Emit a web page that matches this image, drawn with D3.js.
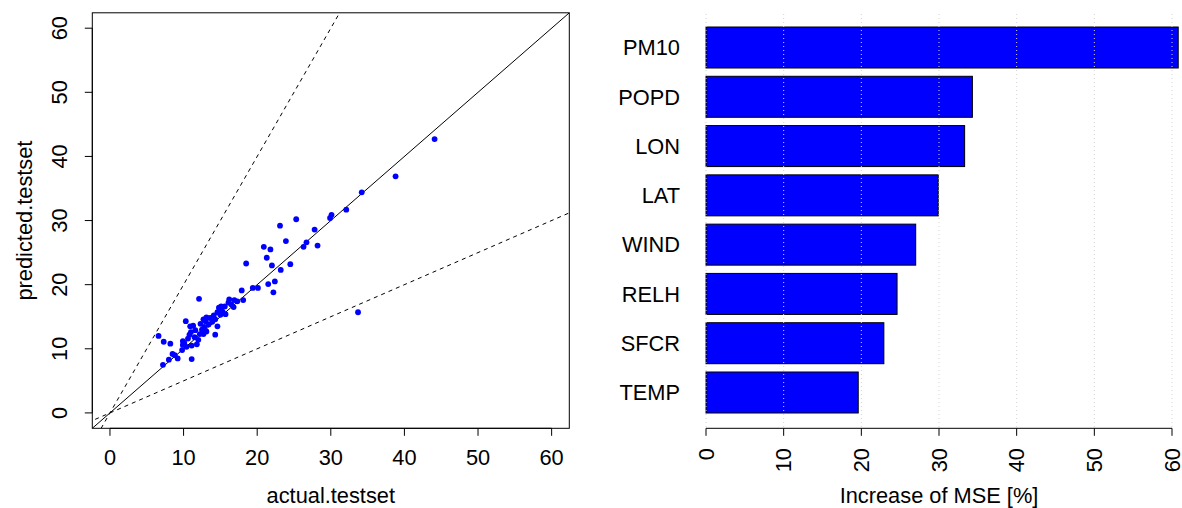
<!DOCTYPE html>
<html><head><meta charset="utf-8">
<script src="https://cdn.jsdelivr.net/npm/d3@7"></script>
<style>
html,body{margin:0;padding:0;background:#fff;}
text{font-family:"Liberation Sans",Arial,Helvetica,sans-serif;fill:#000;}
</style></head>
<body>
<svg id="chart" width="1182" height="508"></svg>
<script>
// ---- data ----
const actual = [44.1,38.8,34.2,32.1,30.1,29.9,25.3,23.1,27.8,23.9,26.7,26.3,28.2,20.9,21.8,21.3,22.0,24.5,18.5,23.2,22.4,21.5,22.2,19.4,20.1,17.9,33.7,12.1,
  18.1,16.9,16.2,16.1,15.6,14.8,15.1,15.7,14.6,14.1,13.6,13.1,12.7,14.6,10.3,11.3,10.9,12.3,12.8,12.5,13.1,12.7,12.2,14.3,11.0,10.8,10.6,6.6,7.3,8.2,9.9,10.1,9.9,11.1,11.8,9.8,8.5,8.8,8.0,9.2,11.1,7.2,
  13.9,14.3,15.3,16.5,17.3,13.4,11.6,11.5,12.0,10.4,13.0,16.8,15.0];
const predicted = [42.7,36.9,34.4,31.7,30.9,30.4,30.2,29.2,28.6,26.8,26.6,25.9,26.1,25.9,25.5,24.2,23.0,23.2,23.3,22.3,20.5,20.1,18.8,19.5,19.5,19.1,15.7,17.8,
  17.6,17.6,17.7,17.2,16.6,16.4,16.6,15.4,15.7,15.2,14.8,14.9,14.6,13.5,14.3,13.6,13.5,13.9,13.4,13.0,12.7,12.3,12.3,12.2,12.6,12.2,11.6,12.0,11.1,10.8,11.2,10.9,10.6,10.5,10.7,9.8,9.2,9.0,8.3,8.5,8.4,7.5,
  14.2,14.6,15.8,16.9,17.4,13.8,12.9,11.8,11.4,10.3,14.3,16.5,15.3];
const refSlopes = [1, 2, 0.5];
const scatterTicks = [0,10,20,30,40,50,60];

const variables = ["PM10","POPD","LON","LAT","WIND","RELH","SFCR","TEMP"];
const mseIncrease = [60.8,34.3,33.3,29.9,27.0,24.6,22.9,19.6];
const barTicks = [0,10,20,30,40,50,60];

const FONT = 21.8;
const svg = d3.select("#chart");

// ---- left: scatter ----
const L = {left:92.3, right:569.3, top:12.8, bottom:428.3};
const x = d3.scaleLinear().domain([-2.4,62.4]).range([L.left,L.right]);
const y = d3.scaleLinear().domain([-2.4,62.4]).range([L.bottom,L.top]);

svg.append("clipPath").attr("id","clipL").append("rect")
  .attr("x",L.left).attr("y",L.top).attr("width",L.right-L.left).attr("height",L.bottom-L.top);

const lines = svg.append("g").attr("clip-path","url(#clipL)");
refSlopes.forEach((s,i)=>{
  lines.append("line")
    .attr("x1",x(-5)).attr("y1",y(-5*s)).attr("x2",x(70)).attr("y2",y(70*s))
    .attr("stroke","#000").attr("stroke-width",1)
    .attr("stroke-dasharray", i===0 ? null : "4,4");
});

svg.append("g").selectAll("circle").data(actual.map((a,i)=>[a,predicted[i]])).join("circle")
  .attr("cx",d=>x(d[0])).attr("cy",d=>y(d[1])).attr("r",2.9).attr("fill","#0000FF");

svg.append("rect").attr("x",L.left).attr("y",L.top).attr("width",L.right-L.left).attr("height",L.bottom-L.top)
  .attr("fill","none").attr("stroke","#000").attr("stroke-width",1);

// x axis
const gx = svg.append("g");
gx.append("line").attr("x1",x(0)).attr("x2",x(60)).attr("y1",L.bottom).attr("y2",L.bottom).attr("stroke","#000");
gx.selectAll("line.t").data(scatterTicks).join("line").attr("class","t")
  .attr("x1",d=>x(d)).attr("x2",d=>x(d)).attr("y1",L.bottom).attr("y2",L.bottom+7.5).attr("stroke","#000");
gx.selectAll("text").data(scatterTicks).join("text")
  .attr("x",d=>x(d)).attr("y",465).attr("text-anchor","middle").attr("font-size",FONT).text(d=>d);
svg.append("text").attr("x",(L.left+L.right)/2).attr("y",503).attr("text-anchor","middle")
  .attr("font-size",FONT).text("actual.testset");

// y axis
const gy = svg.append("g");
gy.append("line").attr("x1",L.left).attr("x2",L.left).attr("y1",y(0)).attr("y2",y(60)).attr("stroke","#000");
gy.selectAll("line.t").data(scatterTicks).join("line").attr("class","t")
  .attr("x1",L.left).attr("x2",L.left-7.5).attr("y1",d=>y(d)).attr("y2",d=>y(d)).attr("stroke","#000");
gy.selectAll("text").data(scatterTicks).join("text")
  .attr("transform",d=>`translate(67,${y(d)}) rotate(-90)`).attr("text-anchor","middle")
  .attr("font-size",FONT).text(d=>d);
svg.append("text").attr("transform",`translate(32,${(L.top+L.bottom)/2}) rotate(-90)`)
  .attr("text-anchor","middle").attr("font-size",FONT).text("predicted.testset");

// ---- right: bars ----
const xb = d3.scaleLinear().domain([0,60]).range([706,1172]);
const yb = d3.scaleBand().domain(variables).range([27,413]).paddingInner(0.168).paddingOuter(0);

svg.append("g").selectAll("rect").data(variables).join("rect")
  .attr("x",xb(0)).attr("y",d=>yb(d))
  .attr("width",(d,i)=>xb(mseIncrease[i])-xb(0)).attr("height",yb.bandwidth())
  .attr("fill","#0000FF").attr("stroke","#000").attr("stroke-width",1);

svg.append("g").selectAll("line").data(barTicks).join("line")
  .attr("x1",d=>xb(d)).attr("x2",d=>xb(d)).attr("y1",14).attr("y2",428)
  .attr("stroke","#D3D3D3").attr("stroke-width",1).attr("stroke-dasharray","1,3");

svg.append("g").selectAll("text").data(variables).join("text")
  .attr("x",680).attr("y",d=>yb(d)+yb.bandwidth()/2).attr("dy","0.36em")
  .attr("text-anchor","end").attr("font-size",FONT).text(d=>d);

const gb = svg.append("g");
gb.append("line").attr("x1",xb(0)).attr("x2",xb(60)).attr("y1",428.3).attr("y2",428.3).attr("stroke","#000");
gb.selectAll("line.t").data(barTicks).join("line").attr("class","t")
  .attr("x1",d=>xb(d)).attr("x2",d=>xb(d)).attr("y1",428.3).attr("y2",435.8).attr("stroke","#000");
gb.selectAll("text").data(barTicks).join("text")
  .attr("transform",d=>`translate(${xb(d)+7.8},448) rotate(-90)`).attr("text-anchor","end")
  .attr("font-size",FONT).text(d=>d);
svg.append("text").attr("x",(xb(0)+xb(60))/2).attr("y",503).attr("text-anchor","middle")
  .attr("font-size",FONT).text("Increase of MSE [%]");
</script>
</body></html>
